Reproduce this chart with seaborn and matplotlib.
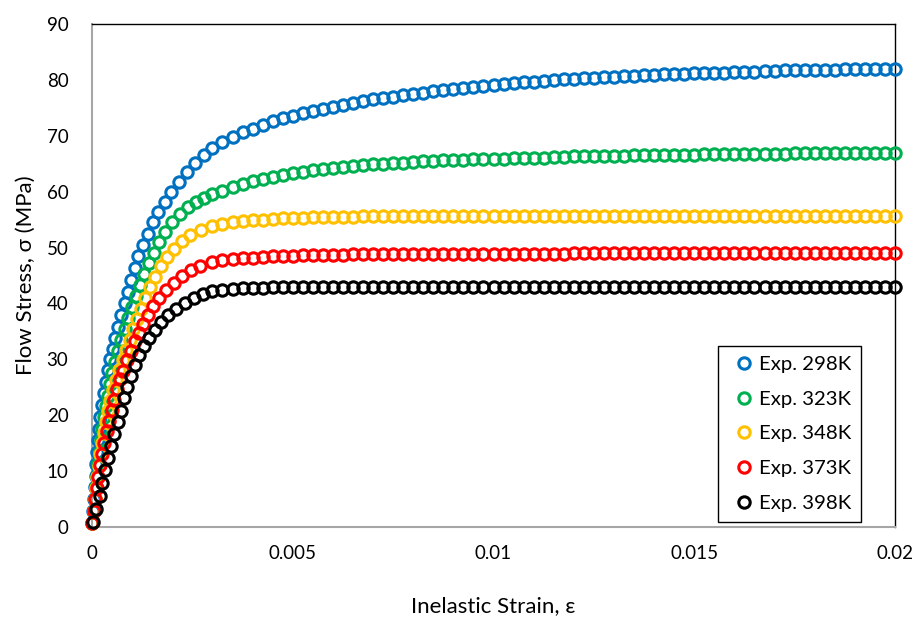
import matplotlib
matplotlib.use("Agg")
import matplotlib.pyplot as plt
import pandas as pd
import seaborn as sns

# ---------------- data ----------------
SERIES_LABELS = ["Exp. 298K", "Exp. 323K", "Exp. 348K", "Exp. 373K", "Exp. 398K"]
COLORS = ["#0070C0", "#00B050", "#FFC000", "#FF0000", "#000000"]

X_TICKS = [0, 0.005, 0.01, 0.015, 0.02]
X_TICK_LABELS = ["0", "0.005", "0.01", "0.015", "0.02"]
Y_TICKS = [0, 10, 20, 30, 40, 50, 60, 70, 80, 90]
Y_TICK_LABELS = ["0", "10", "20", "30", "40", "50", "60", "70", "80", "90"]

# common strain points along the hardening plateau
STRAIN_PLATEAU = [
    0.00300, 0.00325, 0.00350, 0.00375, 0.00400, 0.00425, 0.00450, 0.00475,
    0.00500, 0.00525, 0.00550, 0.00575, 0.00600, 0.00625, 0.00650, 0.00675,
    0.00700, 0.00725, 0.00750, 0.00775, 0.00800, 0.00825, 0.00850, 0.00875,
    0.00900, 0.00925, 0.00950, 0.00975, 0.01000, 0.01025, 0.01050, 0.01075,
    0.01100, 0.01125, 0.01150, 0.01175, 0.01200, 0.01225, 0.01250, 0.01275,
    0.01300, 0.01325, 0.01350, 0.01375, 0.01400, 0.01425, 0.01450, 0.01475,
    0.01500, 0.01525, 0.01550, 0.01575, 0.01600, 0.01625, 0.01650, 0.01675,
    0.01700, 0.01725, 0.01750, 0.01775, 0.01800, 0.01825, 0.01850, 0.01875,
    0.01900, 0.01925, 0.01950, 0.01975, 0.02000,
]

# 298 K
STRAIN_298_EARLY = [
    0.00001, 0.00003, 0.00005, 0.00007, 0.00009, 0.00011, 0.00013, 0.00015,
    0.00018, 0.00021, 0.00025, 0.00030, 0.00035, 0.00041, 0.00046, 0.00052,
    0.00058, 0.00065, 0.00073, 0.00081, 0.00090, 0.00098, 0.00106, 0.00115,
    0.00127, 0.00139, 0.00152, 0.00164, 0.00181, 0.00198, 0.00216, 0.00236,
    0.00257, 0.00278,
]
STRESS_298_EARLY = [
    0.8, 2.9, 5.0, 7.1, 9.2, 11.3, 13.4, 15.5, 17.6, 19.7, 21.8, 23.9, 26.0,
    28.1, 30.0, 31.8, 33.8, 35.8, 37.9, 40.0, 42.1, 44.2, 46.3, 48.4, 50.5,
    52.5, 54.6, 56.4, 58.2, 60.0, 61.8, 63.5, 65.1, 66.6,
]
STRESS_298_PLATEAU = [
    67.9, 68.9, 69.8, 70.6, 71.3, 72.0, 72.6, 73.1,
    73.6, 74.0, 74.4, 74.8, 75.2, 75.5, 75.9, 76.2,
    76.5, 76.8, 77.0, 77.3, 77.5, 77.7, 78.0, 78.2,
    78.4, 78.6, 78.8, 78.9, 79.1, 79.3, 79.4, 79.6,
    79.7, 79.8, 80.0, 80.1, 80.2, 80.3, 80.4, 80.5,
    80.6, 80.7, 80.7, 80.8, 80.9, 81.0, 81.0, 81.1,
    81.2, 81.2, 81.3, 81.3, 81.4, 81.5, 81.5, 81.6,
    81.6, 81.7, 81.7, 81.7, 81.8, 81.8, 81.8, 81.9,
    81.9, 81.9, 82.0, 82.0, 82.0,
]

# 323 K
STRAIN_323_EARLY = [
    0.00001, 0.00004, 0.00007, 0.00010, 0.00013, 0.00016, 0.00019, 0.00022,
    0.00025, 0.00029, 0.00034, 0.00039, 0.00045, 0.00051, 0.00057, 0.00065,
    0.00073, 0.00081, 0.00090, 0.00099, 0.00109, 0.00119, 0.00130, 0.00142,
    0.00154, 0.00167, 0.00182, 0.00199, 0.00218, 0.00238, 0.00258, 0.00279,
]
STRESS_323_EARLY = [
    0.8, 2.9, 5.0, 7.1, 9.2, 11.3, 13.4, 15.5, 17.5, 19.6, 21.6, 23.5, 25.5,
    27.5, 29.5, 31.5, 33.5, 35.4, 37.4, 39.4, 41.4, 43.3, 45.2, 47.2, 49.1,
    51.0, 52.8, 54.5, 56.0, 57.2, 58.1, 58.9,
]
STRESS_323_PLATEAU = [
    59.5, 60.2, 60.8, 61.4, 61.9, 62.3, 62.7, 63.0,
    63.3, 63.5, 63.8, 64.0, 64.2, 64.4, 64.6, 64.7,
    64.9, 65.0, 65.1, 65.2, 65.3, 65.4, 65.5, 65.6,
    65.6, 65.7, 65.8, 65.8, 65.9, 65.9, 66.0, 66.0,
    66.1, 66.1, 66.2, 66.2, 66.3, 66.3, 66.3, 66.4,
    66.4, 66.4, 66.5, 66.5, 66.5, 66.6, 66.6, 66.6,
    66.6, 66.7, 66.7, 66.7, 66.7, 66.8, 66.8, 66.8,
    66.8, 66.8, 66.9, 66.9, 66.9, 66.9, 66.9, 67.0,
    67.0, 67.0, 67.0, 67.0, 67.0,
]

# 348 K
STRAIN_348_EARLY = [
    0.00001, 0.00004, 0.00007, 0.00010, 0.00013, 0.00017, 0.00021, 0.00025,
    0.00029, 0.00034, 0.00039, 0.00046, 0.00053, 0.00060, 0.00068, 0.00076,
    0.00085, 0.00094, 0.00103, 0.00112, 0.00122, 0.00133, 0.00145, 0.00158,
    0.00172, 0.00188, 0.00205, 0.00224, 0.00245, 0.00272,
]
STRESS_348_EARLY = [
    0.8, 2.9, 5.0, 7.0, 9.0, 11.0, 13.0, 15.0, 16.9, 18.8, 20.7, 22.6, 24.5,
    26.3, 28.1, 29.9, 31.7, 33.5, 35.4, 37.2, 39.0, 41.0, 42.9, 44.8, 46.7,
    48.3, 49.8, 51.1, 52.3, 53.2,
]
STRESS_348_PLATEAU = [
    53.9, 54.2, 54.5, 54.7, 54.9, 55.0, 55.1, 55.2,
    55.3, 55.3, 55.4, 55.4, 55.5, 55.5, 55.5, 55.6,
    55.6, 55.6, 55.6, 55.6, 55.6, 55.6, 55.6, 55.6,
    55.6, 55.6, 55.6, 55.6, 55.7, 55.7, 55.7, 55.7,
    55.7, 55.7, 55.7, 55.7, 55.7, 55.7, 55.7, 55.7,
    55.7, 55.7, 55.7, 55.7, 55.7, 55.7, 55.7, 55.7,
    55.7, 55.7, 55.7, 55.7, 55.7, 55.7, 55.7, 55.7,
    55.7, 55.7, 55.7, 55.7, 55.7, 55.7, 55.7, 55.7,
    55.7, 55.7, 55.7, 55.7, 55.7,
]

# 373 K
STRAIN_373_EARLY = [
    0.00001, 0.00004, 0.00008, 0.00012, 0.00016, 0.00021, 0.00026, 0.00031,
    0.00037, 0.00043, 0.00049, 0.00056, 0.00063, 0.00070, 0.00078, 0.00087,
    0.00096, 0.00106, 0.00116, 0.00127, 0.00139, 0.00152, 0.00167, 0.00184,
    0.00203, 0.00224, 0.00246, 0.00270,
]
STRESS_373_EARLY = [
    0.8, 2.9, 5.0, 7.0, 9.0, 11.1, 13.1, 15.1, 17.1, 19.0, 20.9, 22.8, 24.7,
    26.5, 28.0, 29.8, 31.5, 33.2, 34.8, 36.4, 38.0, 39.5, 41.0, 42.4, 43.7,
    44.9, 45.9, 46.7,
]
STRESS_373_PLATEAU = [
    47.4, 47.7, 47.9, 48.1, 48.2, 48.3, 48.4, 48.5,
    48.5, 48.6, 48.6, 48.7, 48.7, 48.7, 48.8, 48.8,
    48.8, 48.8, 48.8, 48.8, 48.9, 48.9, 48.9, 48.9,
    48.9, 48.9, 48.9, 48.9, 48.9, 48.9, 48.9, 48.9,
    48.9, 48.9, 48.9, 48.9, 49.0, 49.0, 49.0, 49.0,
    49.0, 49.0, 49.0, 49.0, 49.0, 49.0, 49.0, 49.0,
    49.0, 49.0, 49.0, 49.0, 49.0, 49.0, 49.0, 49.0,
    49.0, 49.0, 49.0, 49.0, 49.0, 49.0, 49.0, 49.0,
    49.0, 49.0, 49.0, 49.0, 49.0,
]

# 398 K
STRAIN_398_EARLY = [
    0.00002, 0.00011, 0.00019, 0.00024, 0.00032, 0.00040, 0.00048, 0.00056,
    0.00064, 0.00072, 0.00080, 0.00088, 0.00096, 0.00106, 0.00117, 0.00129,
    0.00142, 0.00156, 0.00172, 0.00190, 0.00210, 0.00231, 0.00253, 0.00276,
]
STRESS_398_EARLY = [
    0.9, 3.3, 5.6, 7.9, 10.2, 12.4, 14.5, 16.6, 18.7, 20.8, 23.0, 25.0, 27.0,
    28.9, 30.7, 32.4, 33.8, 35.3, 36.6, 37.9, 39.0, 40.0, 41.0, 41.7,
]
STRESS_398_PLATEAU = [
    42.2, 42.4, 42.6, 42.7, 42.8, 42.8, 42.9, 42.9,
    42.9, 43.0, 43.0, 43.0, 43.0, 43.0, 43.0, 43.0,
    43.0, 43.0, 43.0, 43.0, 43.0, 43.0, 43.0, 43.0,
    43.0, 43.0, 43.0, 43.0, 43.0, 43.0, 43.0, 43.0,
    43.0, 43.0, 43.0, 43.0, 43.0, 43.0, 43.0, 43.0,
    43.0, 43.0, 43.0, 43.0, 43.0, 43.0, 43.0, 43.0,
    43.0, 43.0, 43.0, 43.0, 43.0, 43.0, 43.0, 43.0,
    43.0, 43.0, 43.0, 43.0, 43.0, 43.0, 43.0, 43.0,
    43.0, 43.0, 43.0, 43.0, 43.0,
]

EARLY_STRAINS = [STRAIN_298_EARLY, STRAIN_323_EARLY, STRAIN_348_EARLY,
                 STRAIN_373_EARLY, STRAIN_398_EARLY]
EARLY_STRESSES = [STRESS_298_EARLY, STRESS_323_EARLY, STRESS_348_EARLY,
                  STRESS_373_EARLY, STRESS_398_EARLY]
PLATEAU_STRESSES = [STRESS_298_PLATEAU, STRESS_323_PLATEAU, STRESS_348_PLATEAU,
                    STRESS_373_PLATEAU, STRESS_398_PLATEAU]

# ---------------- build long-form table ----------------
frames = []
for label, es, ey, py in zip(SERIES_LABELS, EARLY_STRAINS, EARLY_STRESSES, PLATEAU_STRESSES):
    if len(es) != len(ey):
        raise ValueError(f"{label}: early lengths {len(es)} vs {len(ey)}")
    if len(py) != len(STRAIN_PLATEAU):
        raise ValueError(f"{label}: plateau lengths {len(py)} vs {len(STRAIN_PLATEAU)}")
    frames.append(pd.DataFrame({
        "strain": list(es) + list(STRAIN_PLATEAU),
        "stress": list(ey) + list(py),
        "series": label,
    }))
df = pd.concat(frames, ignore_index=True)

# ---------------- plot ----------------
sns.set_theme(style="white")
plt.rcParams["font.family"] = ["Lato", "DejaVu Sans"]

fig = plt.figure(figsize=(9.17, 6.23), dpi=100)
ax = fig.add_axes([92 / 917, 1 - 527 / 623, 803 / 917, 503 / 623])

for label, color in zip(SERIES_LABELS, COLORS):
    sub = df[df["series"] == label]
    sns.lineplot(data=sub, x="strain", y="stress", ax=ax, estimator=None,
                 sort=False, color=color, linestyle="", marker="o",
                 markersize=8.2, markerfacecolor="none", markeredgecolor=color,
                 markeredgewidth=2.2, label=label, clip_on=False)

ax.set_xlim(0, 0.02)
ax.set_ylim(0, 90)
ax.set_xticks(X_TICKS)
ax.set_xticklabels(X_TICK_LABELS)
ax.set_yticks(Y_TICKS)
ax.set_yticklabels(Y_TICK_LABELS)
ax.tick_params(axis="x", length=0, pad=13, labelsize=13.5, colors="black")
ax.tick_params(axis="y", length=0, pad=17, labelsize=13.5, colors="black")
ax.grid(False)
ax.set_facecolor("white")

for side in ["top", "right"]:
    ax.spines[side].set_color("black")
    ax.spines[side].set_linewidth(1.0)
for side in ["left", "bottom"]:
    ax.spines[side].set_color("#a6a6a6")
    ax.spines[side].set_linewidth(1.5)
for sp in ax.spines.values():
    sp.set_zorder(0.5)

ax.set_xlabel("Inelastic Strain, ε", fontsize=16, color="black")
ax.set_ylabel("Flow Stress, σ (MPa)", fontsize=16, color="black")
ax.xaxis.set_label_coords(0.5, (527 - 596) / 503)
ax.yaxis.set_label_coords((36 - 92) / 803, 0.5)

handles, labels = ax.get_legend_handles_labels()
leg = ax.legend(handles, labels, loc="lower right", bbox_to_anchor=(0.958, 0.01),
                frameon=True, fancybox=False, edgecolor="black", framealpha=1,
                fontsize=14.7, handlelength=1.5, handletextpad=0.0,
                labelspacing=0.85, borderpad=0.5, borderaxespad=0)
leg.get_frame().set_linewidth(1.0)
for t in leg.get_texts():
    t.set_color("black")

fig.savefig("out.png", dpi=100, facecolor="white")
